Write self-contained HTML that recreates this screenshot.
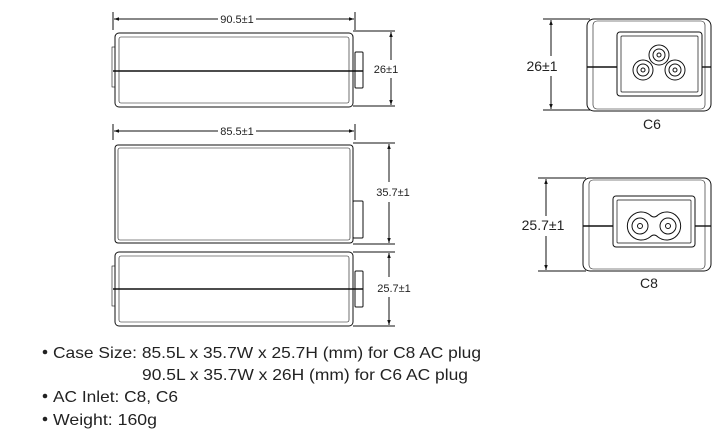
<!DOCTYPE html>
<html><head><meta charset="utf-8"><style>
html,body{margin:0;padding:0;background:#fff;}
svg{display:block;}
text{font-family:"Liberation Sans",Arial,sans-serif;fill:#222;}
</style></head><body>
<svg width="722" height="433" viewBox="0 0 722 433" xmlns="http://www.w3.org/2000/svg">
<defs>
<marker id="a" viewBox="0 0 10 10" refX="10" refY="5" markerWidth="8" markerHeight="5" orient="auto-start-reverse" markerUnits="userSpaceOnUse"><path d="M0,1.5 L10,5 L0,8.5z" fill="#111"/></marker>
</defs>
<g stroke="#111" fill="none" stroke-width="1">
<line x1="113" y1="12" x2="113" y2="30"/><line x1="355" y1="12" x2="355" y2="30"/>
<line x1="114" y1="19" x2="218" y2="19" marker-start="url(#a)"/><line x1="256" y1="19" x2="354" y2="19" marker-end="url(#a)"/>
<rect x="115" y="33" width="238" height="74" rx="4"/>
<rect x="119" y="37" width="230" height="66" rx="2" stroke-width="0.6"/>
<line x1="113" y1="71" x2="363" y2="71" stroke-width="1.6"/>
<rect x="355" y="52" width="8" height="36" rx="1"/>
<rect x="112" y="47" width="3" height="40" stroke-width="0.6"/>
<line x1="353" y1="31" x2="395" y2="31"/><line x1="353" y1="106" x2="395" y2="106"/>
<line x1="391" y1="32" x2="391" y2="60" marker-start="url(#a)"/><line x1="391" y1="78" x2="391" y2="105" marker-end="url(#a)"/>
<line x1="113" y1="124" x2="113" y2="140"/><line x1="355" y1="124" x2="355" y2="140"/>
<line x1="114" y1="131" x2="218" y2="131" marker-start="url(#a)"/><line x1="256" y1="131" x2="354" y2="131" marker-end="url(#a)"/>
<rect x="115" y="145" width="238" height="98" rx="3"/>
<rect x="118" y="148" width="232" height="92" rx="2" stroke-width="0.6"/>
<rect x="353" y="201" width="10" height="37" rx="1"/>
<line x1="353" y1="143" x2="395" y2="143"/><line x1="353" y1="244" x2="395" y2="244"/>
<line x1="389" y1="144" x2="389" y2="182" marker-start="url(#a)"/><line x1="389" y1="202" x2="389" y2="243" marker-end="url(#a)"/>
<rect x="115" y="252" width="238" height="74" rx="4"/>
<rect x="119" y="256" width="230" height="66" rx="2" stroke-width="0.6"/>
<line x1="113" y1="289" x2="363" y2="289" stroke-width="1.6"/>
<rect x="355" y="271" width="8" height="36" rx="1"/>
<rect x="112" y="266" width="3" height="40" stroke-width="0.6"/>
<line x1="353" y1="252" x2="395" y2="252"/><line x1="353" y1="326" x2="395" y2="326"/>
<line x1="389" y1="253" x2="389" y2="277" marker-start="url(#a)"/><line x1="389" y1="297" x2="389" y2="325" marker-end="url(#a)"/>
<rect x="587" y="19" width="124" height="92" rx="7"/>
<rect x="593" y="21" width="112" height="88" rx="4" stroke-width="0.6"/>
<rect x="617" y="32" width="85" height="64" rx="3"/>
<rect x="621" y="36" width="77" height="56" rx="1" stroke-width="0.7"/>
<line x1="587" y1="67" x2="617" y2="67" stroke-width="1.4"/><line x1="702" y1="67" x2="711" y2="67" stroke-width="1.4"/>
<circle cx="659" cy="55" r="10"/><circle cx="643" cy="70" r="10"/><circle cx="675" cy="70" r="10"/>
<circle cx="659" cy="55" r="6"/><circle cx="643" cy="70" r="6"/><circle cx="675" cy="70" r="6"/>
<circle cx="659" cy="55" r="2"/><circle cx="643" cy="70" r="2"/><circle cx="675" cy="70" r="2"/>
<line x1="543" y1="19" x2="590" y2="19"/><line x1="543" y1="110" x2="590" y2="110"/>
<line x1="551" y1="20" x2="551" y2="56" marker-start="url(#a)"/><line x1="551" y1="76" x2="551" y2="109" marker-end="url(#a)"/>
<rect x="583" y="178" width="128" height="93" rx="7"/>
<rect x="589" y="180" width="116" height="89" rx="4" stroke-width="0.6"/>
<rect x="613" y="196" width="82" height="51" rx="3"/>
<rect x="617" y="200" width="74" height="43" rx="1" stroke-width="0.7"/>
<line x1="583" y1="226" x2="613" y2="226" stroke-width="1.4"/><line x1="695" y1="226" x2="711" y2="226" stroke-width="1.4"/>
<path d="M650,215 A14,14 0 1 0 650,237 Q654,233 658,237 A14,14 0 1 0 658,215 Q654,219 650,215 Z"/>
<circle cx="640" cy="226" r="8"/><circle cx="668" cy="226" r="8"/>
<circle cx="640" cy="226" r="2.5"/><circle cx="668" cy="226" r="2.5"/>
<line x1="538" y1="178" x2="586" y2="178"/><line x1="538" y1="271" x2="586" y2="271"/>
<line x1="546" y1="179" x2="546" y2="216" marker-start="url(#a)"/><line x1="546" y1="236" x2="546" y2="270" marker-end="url(#a)"/>
</g>
<g font-size="11">
<text x="237" y="23" text-anchor="middle">90.5±1</text>
<text x="237" y="135" text-anchor="middle">85.5±1</text>
<text x="386" y="73" text-anchor="middle">26±1</text>
<text x="393" y="196" text-anchor="middle">35.7±1</text>
<text x="394" y="292" text-anchor="middle">25.7±1</text>
</g>
<g font-size="14">
<text x="542" y="71" text-anchor="middle">26±1</text>
<text x="543" y="230" text-anchor="middle">25.7±1</text>
<text x="652" y="129" text-anchor="middle">C6</text>
<text x="649" y="288" text-anchor="middle">C8</text>
</g>
<g font-size="16" style="fill:#333">
<circle cx="45" cy="352" r="2.3" fill="#222"/>
<circle cx="45" cy="396" r="2.3" fill="#222"/>
<circle cx="45" cy="419" r="2.3" fill="#222"/>
<text x="53" y="358" textLength="428" lengthAdjust="spacingAndGlyphs">Case Size:  85.5L x 35.7W x 25.7H (mm) for C8 AC plug</text>
<text x="142" y="380" textLength="326" lengthAdjust="spacingAndGlyphs">90.5L x 35.7W x 26H (mm) for C6 AC plug</text>
<text x="53" y="402" textLength="125" lengthAdjust="spacingAndGlyphs">AC Inlet: C8, C6</text>
<text x="53" y="425" textLength="104" lengthAdjust="spacingAndGlyphs">Weight: 160g</text>
</g>
</svg>
</body></html>
